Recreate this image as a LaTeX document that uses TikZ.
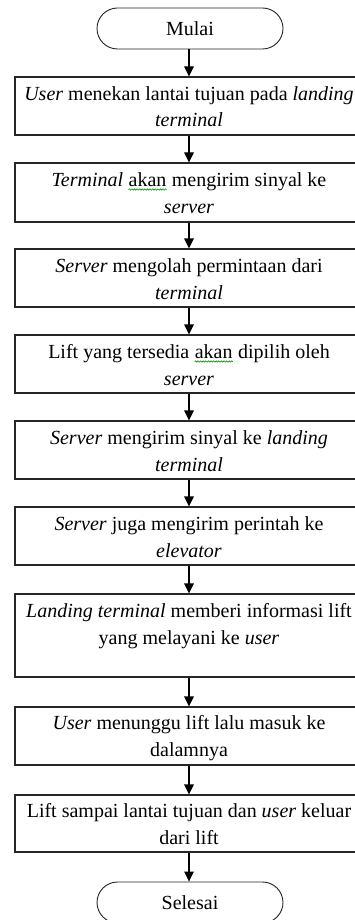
\documentclass[tikz,border=0pt]{standalone}
\usepackage{fontspec}
\setmainfont{Liberation Serif}
\usetikzlibrary{arrows.meta,decorations.pathmorphing}

\tikzset{
  procbox/.style={draw=black!85, line width=1.1pt, rectangle, minimum width=348pt, inner sep=0pt},
  termbox/.style={draw=black!85, line width=0.9pt, rectangle, rounded corners=20.5pt,
    minimum width=186pt, minimum height=41pt, inner sep=0pt, font=\fontsize{20}{26.5}\selectfont},
  boxtext/.style={align=center, inner sep=0pt, anchor=base, font=\fontsize{20}{26.5}\selectfont},
  flow/.style={draw=black, line width=1.1pt, -{Triangle[width=9.5pt,length=10pt]}},
  spell/.style={draw=green!55!black, line width=0.6pt, decorate,
    decoration={snake, amplitude=0.7pt, segment length=2.6pt}}
}

% word with a wavy green underline
\newcommand\wavyword[2]{\tikz[baseline=(#1.base)]{%
  \node[inner sep=0pt, anchor=base] (#1) {#2};
  \draw[spell] ([yshift=-3pt]#1.base west) -- ([yshift=-3pt]#1.base east);}}

\begin{document}
\begin{tikzpicture}[x=1pt,y=-1pt]
\useasboundingbox (0,0) rectangle (355,920);

% start / end terminals
\node[termbox] (start) at (190,28.5) {Mulai};
\node[termbox] (stop)  at (190,902.5) {Selesai};

% process boxes (centre y, height)
\node[procbox, minimum height=58pt] (b1) at (189,106)   {};
\node[procbox, minimum height=59pt] (b2) at (189,192.5) {};
\node[procbox, minimum height=58pt] (b3) at (189,278)   {};
\node[procbox, minimum height=58pt] (b4) at (189,364)   {};
\node[procbox, minimum height=58pt] (b5) at (189,450)   {};
\node[procbox, minimum height=58pt] (b6) at (189,536)   {};
\node[procbox, minimum height=83pt] (b7) at (189,635.5) {};
\node[procbox, minimum height=58pt] (b8) at (189,736)   {};
\node[procbox, minimum height=57pt] (b9) at (189,823.5) {};

% box texts, placed by the baseline of their last line
\node[boxtext] (t1) at (189,127) {\textit{User} menekan lantai tujuan pada \textit{landing}\\\textit{terminal}};
\node[boxtext] (t2) at (189,213) {\textit{Terminal} \wavyword{ak1}{akan} mengirim sinyal ke\\\textit{server}};
\node[boxtext] (t3) at (189,299) {\textit{Server} mengolah permintaan dari\\\textit{terminal}};
\node[boxtext] (t4) at (189,385) {Lift yang tersedia \wavyword{ak2}{akan} dipilih oleh\\\textit{server}};
\node[boxtext] (t5) at (189,471) {\textit{Server} mengirim sinyal ke \textit{landing}\\\textit{terminal}};
\node[boxtext] (t6) at (189,557) {\textit{Server} juga mengirim perintah ke\\\textit{elevator}};
\node[boxtext] (t7) at (189,644) {\textit{Landing terminal} memberi informasi lift\\yang melayani ke \textit{user}};
\node[boxtext] (t8) at (189,756) {\textit{User} menunggu lift lalu masuk ke\\dalamnya};
\node[boxtext] (t9) at (189,844) {Lift sampai lantai tujuan dan \textit{user} keluar\\dari lift};

% connectors
\draw[flow] (start.south -| b1.north) -- (b1.north);
\draw[flow] (b1) -- (b2);
\draw[flow] (b2) -- (b3);
\draw[flow] (b3) -- (b4);
\draw[flow] (b4) -- (b5);
\draw[flow] (b5) -- (b6);
\draw[flow] (b6) -- (b7);
\draw[flow] (b7) -- (b8);
\draw[flow] (b8) -- (b9);
\draw[flow] (b9.south) -- (stop.north -| b9.south);
\end{tikzpicture}
\end{document}
